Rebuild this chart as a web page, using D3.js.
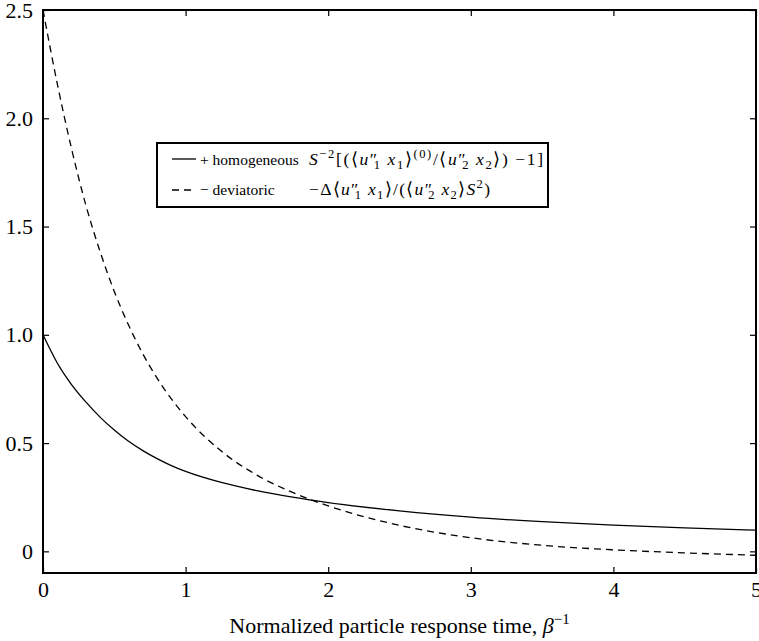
<!DOCTYPE html>
<html>
<head>
<meta charset="utf-8">
<script src="https://cdn.jsdelivr.net/npm/d3@7"></script>
<style>
  body { margin: 0; background: #fff; }
  svg { display: block; font-family: "Liberation Serif", "Times New Roman", serif; }
</style>
</head>
<body>
<svg id="chart" width="759" height="641"></svg>
<script>
// values
const xValues = [0, 0.1, 0.2, 0.3, 0.4, 0.5, 0.6, 0.7, 0.8, 0.9, 1.0, 1.25, 1.5, 1.75, 2.0, 2.5, 3.0, 3.5, 4.0, 4.5, 5.0];
const homogeneous = [1.0, 0.87, 0.77, 0.69, 0.62, 0.56, 0.508, 0.465, 0.428, 0.396, 0.369, 0.318, 0.28, 0.25, 0.225, 0.187, 0.158, 0.137, 0.121, 0.108, 0.098];
const deviatoric = [2.5, 2.16, 1.86, 1.6, 1.385, 1.2, 1.045, 0.912, 0.8, 0.704, 0.622, 0.463, 0.352, 0.272, 0.21, 0.12, 0.063, 0.028, 0.007, -0.007, -0.018];

const xTicks = [0, 1, 2, 3, 4, 5];
const yTicks = [0, 0.5, 1.0, 1.5, 2.0, 2.5];
const yTickLabels = ['0', '0.5', '1.0', '1.5', '2.0', '2.5'];

const width = 759;
const height = 641;
const margin = { top: 10, right: 3, bottom: 68, left: 43 };

const svg = d3.select('#chart');

const x = d3.scaleLinear().domain([0, 5]).range([margin.left, width - margin.right]);
const y = d3.scaleLinear().domain([-0.1, 2.5]).range([height - margin.bottom, margin.top]);

const tickLen = 6;

// bottom + top axes
svg.append('g')
  .attr('transform', `translate(0,${y(-0.1)})`)
  .call(d3.axisBottom(x).tickValues(xTicks).tickSizeInner(-tickLen).tickSizeOuter(0).tickPadding(8).tickFormat(d3.format('d')))
  .call((g) => g.select('.domain').remove());

svg.append('g')
  .attr('transform', `translate(0,${y(2.5)})`)
  .call(d3.axisTop(x).tickValues(xTicks).tickSizeInner(-tickLen).tickSizeOuter(0).tickFormat(''))
  .call((g) => g.select('.domain').remove());

// left + right axes
svg.append('g')
  .attr('transform', `translate(${x(0)},0)`)
  .call(d3.axisLeft(y).tickValues(yTicks).tickSizeInner(-tickLen).tickSizeOuter(0).tickPadding(10).tickFormat((d, i) => yTickLabels[i]))
  .call((g) => g.select('.domain').remove());

svg.append('g')
  .attr('transform', `translate(${x(5)},0)`)
  .call(d3.axisRight(y).tickValues(yTicks).tickSizeInner(-tickLen).tickSizeOuter(0).tickFormat(''))
  .call((g) => g.select('.domain').remove());

svg.selectAll('.tick line').attr('stroke', '#000').attr('stroke-width', 1.2);
svg.selectAll('.tick text')
  .attr('font-family', '"Liberation Serif", "Times New Roman", serif')
  .attr('font-size', 22)
  .attr('fill', '#000');

// the curves
const pts = (vals) => xValues.map((v, i) => [v, vals[i]]);
const line = d3.line().x((d) => x(d[0])).y((d) => y(d[1])).curve(d3.curveMonotoneX);

svg.append('path')
  .datum(pts(homogeneous))
  .attr('d', line)
  .attr('fill', 'none')
  .attr('stroke', '#000')
  .attr('stroke-width', 1.3);

svg.append('path')
  .datum(pts(deviatoric))
  .attr('d', line)
  .attr('fill', 'none')
  .attr('stroke', '#000')
  .attr('stroke-width', 1.3)
  .attr('stroke-dasharray', '7,5');

// frame
svg.append('rect')
  .attr('x', x(0))
  .attr('y', y(2.5))
  .attr('width', x(5) - x(0))
  .attr('height', y(-0.1) - y(2.5))
  .attr('fill', 'none')
  .attr('stroke', '#000')
  .attr('stroke-width', 2);

// x label
const xl = svg.append('text')
  .attr('x', (x(0) + x(5)) / 2)
  .attr('y', 633)
  .attr('text-anchor', 'middle')
  .attr('font-size', 22);
xl.append('tspan').text('Normalized particle response time, ');
xl.append('tspan').attr('font-style', 'italic').text('β');
xl.append('tspan').attr('font-size', 15).attr('dy', -9).text('−1');

// rich text helper: segments of [text, style] where style: i italic, sup, sub
function rich(parent, px, py, size, segs, fitWidth) {
  const t = parent.append('text').attr('x', px).attr('y', py).attr('font-size', size);
  let cur = 0;
  segs.forEach((s) => {
    const [txt, opt = {}] = s;
    const target = opt.sup ? -size * 0.4 : opt.sub ? size * 0.25 : 0;
    const sp = t.append('tspan').text(txt).attr('dy', target - cur);
    cur = target;
    if (opt.i) sp.attr('font-style', 'italic');
    if (opt.sup || opt.sub) sp.attr('font-size', size * 0.72);
    if (opt.dx) sp.attr('dx', opt.dx);
  });
  if (fitWidth) t.attr('textLength', fitWidth).attr('lengthAdjust', 'spacing');
  return t;
}

// legend
const lg = svg.append('g');
lg.append('rect')
  .attr('x', 157).attr('y', 143).attr('width', 391).attr('height', 64)
  .attr('fill', '#fff').attr('stroke', '#000').attr('stroke-width', 2);

const lfs = 15.5;
lg.append('line').attr('x1', 172).attr('x2', 196).attr('y1', 159).attr('y2', 159)
  .attr('stroke', '#000').attr('stroke-width', 1.3);
lg.append('line').attr('x1', 172).attr('x2', 196).attr('y1', 190).attr('y2', 190)
  .attr('stroke', '#000').attr('stroke-width', 1.3).attr('stroke-dasharray', '7,5');

lg.append('text').attr('x', 200).attr('y', 165).attr('font-size', lfs).text('+ homogeneous');
lg.append('text').attr('x', 200).attr('y', 195).attr('font-size', lfs).text('− deviatoric');

rich(lg, 309, 165, 17.5, [
  ['S', { i: true }], ['−2', { sup: true }], ['[(⟨'], ['u', { i: true }], ['″'], ['1', { sub: true, dx: -5 }],
  [' '], ['x', { i: true }], ['1', { sub: true }], ['⟩'], ['(0)', { sup: true }], ['/⟨'],
  ['u', { i: true }], ['″'], ['2', { sub: true, dx: -5 }], [' '], ['x', { i: true }], ['2', { sub: true }],
  ['⟩) −1]']
], 234);
rich(lg, 309, 195, 17.5, [
  ['−Δ⟨'], ['u', { i: true }], ['″'], ['1', { sub: true, dx: -5 }], [' '], ['x', { i: true }], ['1', { sub: true }],
  ['⟩/(⟨'], ['u', { i: true }], ['″'], ['2', { sub: true, dx: -5 }], [' '], ['x', { i: true }], ['2', { sub: true }],
  ['⟩'], ['S', { i: true }], ['2', { sup: true }], [')']
], 181);
</script>
</body>
</html>
